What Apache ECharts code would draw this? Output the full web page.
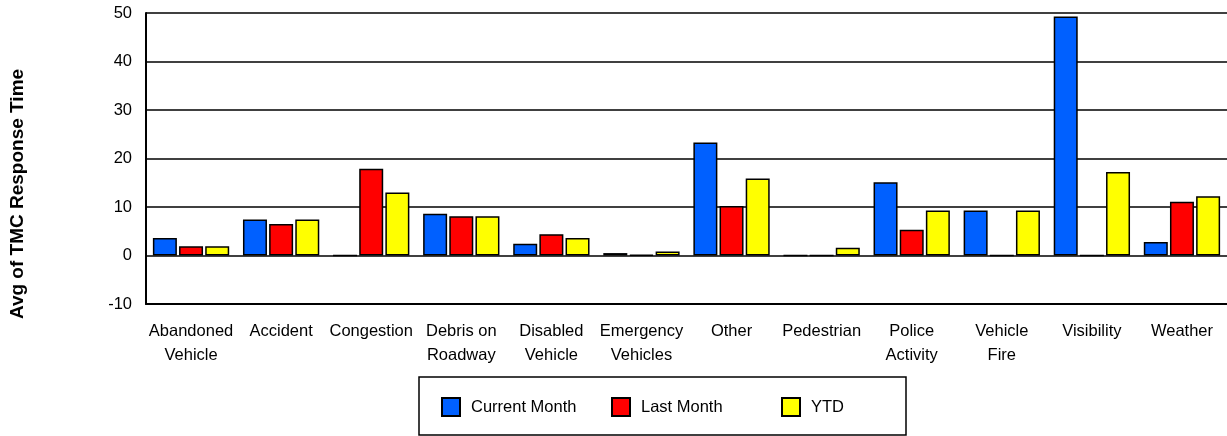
<!DOCTYPE html>
<html>
<head>
<meta charset="utf-8">
<script src="https://cdn.jsdelivr.net/npm/echarts@6/dist/echarts.min.js"></script>
<style>
  html, body { margin: 0; padding: 0; background: #fff; }
  #chart { width: 1227px; height: 436px; }
</style>
</head>
<body>
<div id="chart"></div>
<script>
// categories and values
const categories = [
  'Abandoned\nVehicle', 'Accident', 'Congestion', 'Debris on\nRoadway',
  'Disabled\nVehicle', 'Emergency\nVehicles', 'Other', 'Pedestrian',
  'Police\nActivity', 'Vehicle\nFire', 'Visibility', 'Weather'
]
const currentMonth = [3.6, 7.4, 0, 8.6, 2.4, 0.5, 23.3, 0, 15.1, 9.3, 49.3, 2.8]
const lastMonth = [1.9, 6.5, 17.9, 8.1, 4.4, 0.15, 10.2, 0, 5.3, 0, 0, 11.1]
const ytd = [1.9, 7.4, 13.0, 8.1, 3.6, 0.8, 15.9, 1.6, 9.3, 9.3, 17.2, 12.2]
const yTicks = { min: -10, max: 50, interval: 10 }

const font = "'Liberation Sans', Arial, sans-serif"

const chart = echarts.init(document.getElementById('chart'))

// one bar series
const makeSeries = (name, data, color) => ({
  name: name,
  type: 'bar',
  data: data,
  barWidth: 24,
  barGap: '9%',
  itemStyle: { color: color, borderColor: '#000', borderWidth: 1.5 }
})

// single-entry legend so every item sits at its own fixed spot
const makeLegend = (name, left) => ({
  data: [name],
  left: left,
  top: 397,
  icon: 'rect',
  itemWidth: 18,
  itemHeight: 18,
  padding: 0,
  textStyle: { fontFamily: font, fontSize: 16.5, color: '#000', padding: [0, 0, 0, 6] }
})

const option = {
  animation: false,
  grid: { left: 146, right: 0, top: 13, bottom: 132 },
  xAxis: {
    type: 'category',
    data: categories,
    axisLine: { onZero: false, lineStyle: { color: '#000', width: 2 } },
    axisTick: { show: false },
    axisLabel: {
      interval: 0,
      margin: 15,
      fontFamily: font,
      fontSize: 16.5,
      color: '#000',
      lineHeight: 24
    }
  },
  yAxis: {
    type: 'value',
    min: yTicks.min,
    max: yTicks.max,
    interval: yTicks.interval,
    axisLine: { show: true, lineStyle: { color: '#000', width: 2 } },
    axisTick: { show: false },
    axisLabel: { margin: 14, fontFamily: font, fontSize: 16.5, color: '#000' },
    splitLine: { lineStyle: { color: '#000', width: 1.5 } }
  },
  legend: [
    makeLegend('Current Month', 441),
    makeLegend('Last Month', 611),
    makeLegend('YTD', 781)
  ],
  graphic: [
    {
      type: 'rect',
      shape: { x: 419, y: 377, width: 487, height: 58 },
      style: { fill: 'none', stroke: '#000', lineWidth: 1.5 },
      z: -1
    },
    {
      type: 'text',
      x: 18,
      y: 194,
      rotation: Math.PI / 2,
      style: {
        text: 'Avg of TMC Response Time',
        font: 'bold 19px ' + font,
        fill: '#000',
        align: 'center',
        verticalAlign: 'middle'
      }
    }
  ],
  series: [
    makeSeries('Current Month', currentMonth, '#0060ff'),
    makeSeries('Last Month', lastMonth, '#ff0000'),
    makeSeries('YTD', ytd, '#ffff00')
  ]
}

chart.setOption(option)
</script>
</body>
</html>
